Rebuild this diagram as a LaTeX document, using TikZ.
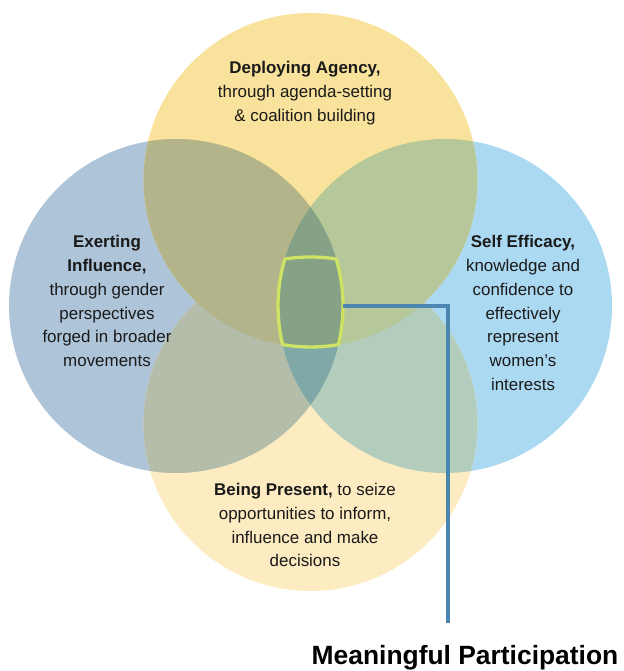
\documentclass[tikz,border=0pt]{standalone}
\usepackage{fontspec}
\setmainfont{Liberation Sans}
\definecolor{cT}{RGB}{249,226,155}
\definecolor{cB}{RGB}{253,235,193}
\definecolor{cL}{RGB}{174,196,216}
\definecolor{cR}{RGB}{172,217,242}
\definecolor{cTL}{RGB}{179,180,137}
\definecolor{cTR}{RGB}{182,199,153}
\definecolor{cBL}{RGB}{180,188,170}
\definecolor{cBR}{RGB}{178,205,188}
\definecolor{cLRT}{RGB}{133,162,135}
\definecolor{cLRB}{RGB}{128,168,166}
\definecolor{cEdge}{RGB}{206,226,100}
\definecolor{cLink}{RGB}{74,134,176}
\definecolor{cTxt}{RGB}{26,26,26}
\begin{document}
\begin{tikzpicture}[x=1bp,y=-1bp,
  blurb/.style={align=center,inner sep=0pt,text=cTxt,font=\fontsize{17}{24}\selectfont},
  headline/.style={inner sep=0pt,text=black,font=\fontsize{26.5}{30}\selectfont\bfseries},
  coreline/.style={draw=cEdge,line width=3.3bp,line join=round},
  link/.style={draw=cLink,line width=3.3bp}]
\useasboundingbox (0,0) rectangle (624,671);
\def\Tc{(310.5,180) circle[radius=167]}
\def\Bc{(310.5,424) circle[radius=167]}
\def\Lc{(176,306) circle[radius=167]}
\def\Rc{(445,306) circle[radius=167]}
% single discs
\fill[cL] \Lc;
\fill[cR] \Rc;
\fill[cB] \Bc;
\fill[cT] \Tc;
% overlaps with the bottom disc
\begin{scope}\clip \Bc; \fill[cBL] \Lc; \fill[cBR] \Rc; \end{scope}
% left-right lens
\begin{scope}\clip \Lc; \fill[cLRB] \Rc; \end{scope}
% overlaps with the top disc
\begin{scope}\clip \Tc; \fill[cTL] \Lc; \fill[cTR] \Rc; \end{scope}
\begin{scope}\clip \Tc; \clip \Lc; \fill[cLRT] \Rc; \end{scope}
% core outline (intersection of the four discs)
\draw[coreline] ([shift={(-98.87:167)}]310.5,424)
  arc[start angle=-98.87,end angle=-81.13,radius=167]
  arc[start angle=-16.35,end angle=13.37,radius=167]
  arc[start angle=80.36,end angle=99.64,radius=167]
  arc[start angle=166.63,end angle=196.35,radius=167] -- cycle;
% texts
\node[blurb] (agency) at (305,93) {\textbf{Deploying Agency,}\\through agenda-setting\\\& coalition building};
\node[blurb] (influence) at (107,301) {\textbf{Exerting}\\\textbf{Influence,}\\through gender\\perspectives\\forged in broader\\movements};
\node[blurb] (efficacy) at (523,313) {\textbf{Self Efficacy,}\\knowledge and\\confidence to\\effectively\\represent\\women's\\interests};
\node[blurb] (present) at (305,525) {\textbf{Being Present,} to seize\\opportunities to inform,\\influence and make\\decisions};
\node[headline,anchor=base] (title) at (465,664.5) {Meaningful Participation};
% connector
\coordinate (core) at (343,306);
\coordinate (drop) at (448,623);
\draw[link] (core) -| (drop);
\end{tikzpicture}
\end{document}
